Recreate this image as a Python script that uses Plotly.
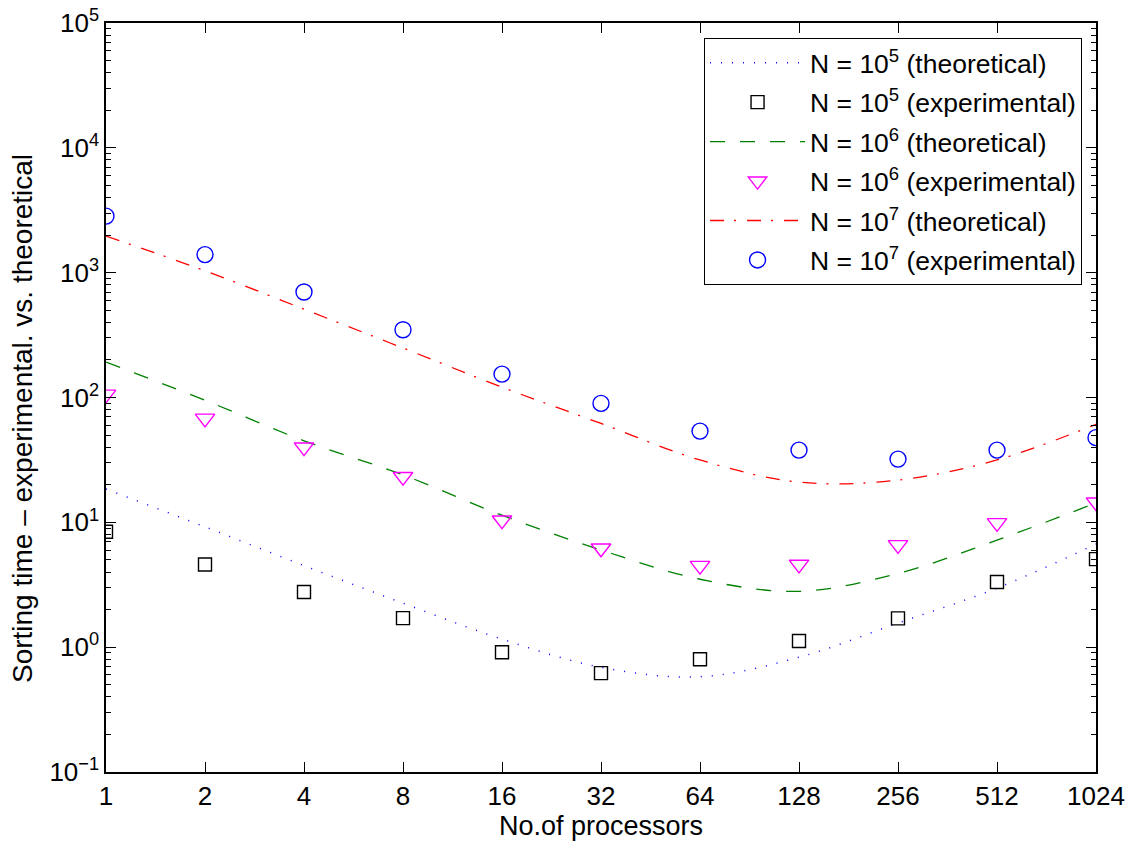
import plotly.graph_objects as go

procs = [1, 2, 4, 8, 16, 32, 64, 128, 256, 512, 1024]
x_ticklabels = ["1", "2", "4", "8", "16", "32", "64", "128", "256", "512", "1024"]

exp_1e5 = [8.4, 4.6, 2.77, 1.71, 0.91, 0.62, 0.80, 1.12, 1.70, 3.33, 5.07]
exp_1e6 = [106, 68, 40, 23.2, 10.4, 6.2, 4.5, 4.6, 6.6, 9.9, 14.5]
exp_1e7 = [2840, 1396, 700, 349, 154, 89.7, 53.8, 37.9, 32.1, 37.9, 47.7]

theo_1e5 = [18.5, 9.2, 4.5, 2.25, 1.16, 0.69, 0.58, 0.83, 1.56, 2.97, 6.7]
theo_1e6 = [192, 95, 45, 24, 11.4, 6.0, 3.5, 2.8, 3.9, 7.2, 14.3]
theo_1e7 = [1965, 1035, 510, 249, 121, 62, 31.6, 21, 21.8, 31.6, 61]

y_tickvals = [0.1, 1, 10, 100, 1000, 10000, 100000]
y_ticktext = ["10<sup>\u22121</sup>", "10<sup>0</sup>", "10<sup>1</sup>", "10<sup>2</sup>",
              "10<sup>3</sup>", "10<sup>4</sup>", "10<sup>5</sup>"]

FONT = "Liberation Sans, Arial, Helvetica, sans-serif"

fig = go.Figure()

fig.add_trace(go.Scatter(x=procs, y=theo_1e5, mode="lines", name="N = 10<sup>5</sup> (theoretical)",
                         line=dict(color="#0000ff", width=1.5, dash="1px,10px", shape="spline"),
                         legendgroup="a"))
fig.add_trace(go.Scatter(x=procs, y=exp_1e5, mode="markers", name="N = 10<sup>5</sup> (experimental)",
                         marker=dict(symbol="square-open", size=13, color="#000000", line=dict(width=1.4)),
                         legendgroup="b"))
fig.add_trace(go.Scatter(x=procs, y=theo_1e6, mode="lines", name="N = 10<sup>6</sup> (theoretical)",
                         line=dict(color="#008000", width=1.3, dash="15px,15px", shape="spline"),
                         legendgroup="c"))
fig.add_trace(go.Scatter(x=procs, y=exp_1e6, mode="markers", name="N = 10<sup>6</sup> (experimental)",
                         marker=dict(symbol="triangle-down-open", size=17, color="#ff00ff", line=dict(width=1.4)),
                         legendgroup="d"))
fig.add_trace(go.Scatter(x=procs, y=theo_1e7, mode="lines", name="N = 10<sup>7</sup> (theoretical)",
                         line=dict(color="#ff0000", width=1.3, dash="14px,10px,2px,11px", shape="spline"),
                         legendgroup="e"))
fig.add_trace(go.Scatter(x=procs, y=exp_1e7, mode="markers", name="N = 10<sup>7</sup> (experimental)",
                         marker=dict(symbol="circle-open", size=16, color="#0000ff", line=dict(width=1.4)),
                         legendgroup="f"))

fig.update_layout(
    width=1125, height=840,
    margin=dict(l=98, r=37, t=15, b=76, autoexpand=False),
    paper_bgcolor="white", plot_bgcolor="white",
    font=dict(family=FONT, size=26, color="black"),
    showlegend=True,
    legend=dict(x=0.9859, y=0.98, xanchor="right", yanchor="top",
                bordercolor="black", borderwidth=1, bgcolor="white",
                font=dict(family=FONT, size=26.5, color="black"),
                traceorder="grouped", tracegroupgap=2, itemwidth=95),
    xaxis=dict(type="log", range=[0, 3.0103], tickvals=procs, ticktext=x_ticklabels,
               ticks="inside", ticklen=10, tickwidth=1.2, tickcolor="black",
               showline=True, linecolor="black", linewidth=1.5, mirror="allticks",
               showgrid=False, zeroline=False, automargin=False, ticklabeloverflow="allow",
               tickfont=dict(family=FONT, size=26),
               title=dict(text="No.of processors", font=dict(family=FONT, size=27), standoff=6)),
    yaxis=dict(type="log", range=[-1, 5], tickvals=y_tickvals, ticktext=y_ticktext,
               ticks="inside", ticklen=10, tickwidth=1.2, tickcolor="black",
               minor=dict(ticks="inside", ticklen=5, tickwidth=1.2, tickcolor="black", dtick="D1", showgrid=False),
               showline=True, linecolor="black", linewidth=1.5, mirror="allticks",
               showgrid=False, zeroline=False, automargin=False, ticklabeloverflow="allow",
               tickfont=dict(family=FONT, size=26)),
    annotations=[dict(text="Sorting time \u2013 experimental. vs. theoretical",
                      xref="paper", yref="paper", x=-0.0838, y=0.4713,
                      xanchor="center", yanchor="middle", textangle=-90, showarrow=False,
                      font=dict(family=FONT, size=28, color="black"))],
)

fig.write_html("out.html")
